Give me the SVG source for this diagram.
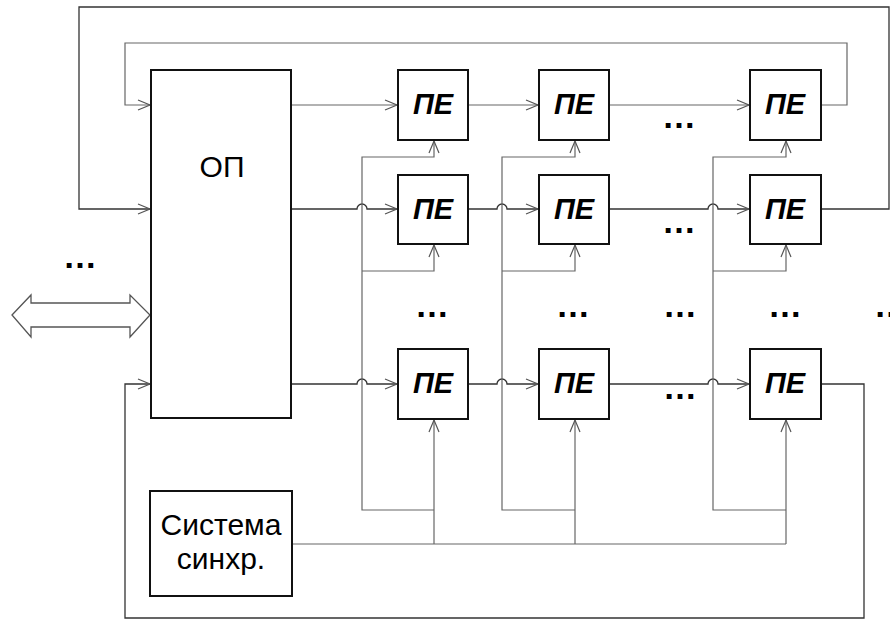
<svg xmlns="http://www.w3.org/2000/svg" width="890" height="619" viewBox="0 0 890 619">
<defs>
<marker id="arr" markerUnits="userSpaceOnUse" markerWidth="14" markerHeight="12" refX="12" refY="6" orient="auto" overflow="visible">
<path d="M0,1 L12,6 L0,11" fill="none" stroke="#555" stroke-width="1.2"/>
</marker>
</defs>
<style>
.box{fill:#fff;stroke:#111;stroke-width:2}
.ln{fill:none;stroke:#666;stroke-width:1.2}
.dk{fill:none;stroke:#333;stroke-width:1.3}
.pe{font-family:"Liberation Sans",Arial,sans-serif;font-weight:bold;font-style:italic;font-size:29px;fill:#000;text-anchor:middle}
.lb{font-family:"Liberation Sans",Arial,sans-serif;font-size:30px;fill:#000;text-anchor:middle}
.dots{font-family:"Liberation Sans",Arial,sans-serif;font-weight:bold;font-size:34px;fill:#000;text-anchor:middle}
.bus{fill:#fff;stroke:#555;stroke-width:1.3}
</style>
<rect width="890" height="619" fill="#fff"/>
<g id="connectors">
<path class="dk" d="M821,209 H889 V7 H79 V209 H150" marker-end="url(#arr)"/>
<path class="ln" d="M821,105 H847 V43 H125 V105 H150" marker-end="url(#arr)"/>
<path class="dk" d="M821,384 H864 V618 H125 V384 H150" marker-end="url(#arr)"/>
<path class="ln" d="M291,105 H397" marker-end="url(#arr)"/>
<path class="ln" d="M468,105 H538" marker-end="url(#arr)"/>
<path class="ln" d="M609,105 H749" marker-end="url(#arr)"/>
<path class="dk" d="M291,209 H357 a5,5 0 0 1 10,0 H397" marker-end="url(#arr)"/>
<path class="dk" d="M468,209 H497 a5,5 0 0 1 10,0 H538" marker-end="url(#arr)"/>
<path class="dk" d="M609,209 H708 a5,5 0 0 1 10,0 H749" marker-end="url(#arr)"/>
<path class="dk" d="M291,384 H357 a5,5 0 0 1 10,0 H397" marker-end="url(#arr)"/>
<path class="dk" d="M468,384 H497 a5,5 0 0 1 10,0 H538" marker-end="url(#arr)"/>
<path class="dk" d="M609,384 H708 a5,5 0 0 1 10,0 H749" marker-end="url(#arr)"/>
<path class="ln" d="M434,510 H362 V157 H434 V141" marker-end="url(#arr)"/>
<path class="ln" d="M362,271 H434 V245" marker-end="url(#arr)"/>
<path class="ln" d="M575,510 H502 V157 H575 V141" marker-end="url(#arr)"/>
<path class="ln" d="M502,271 H575 V245" marker-end="url(#arr)"/>
<path class="ln" d="M786,510 H713 V157 H786 V141" marker-end="url(#arr)"/>
<path class="ln" d="M713,271 H786 V245" marker-end="url(#arr)"/>
<path class="ln" d="M292,544 H786"/>
<path class="ln" d="M434,544 V420" marker-end="url(#arr)"/>
<path class="ln" d="M575,544 V420" marker-end="url(#arr)"/>
<path class="ln" d="M786,544 V420" marker-end="url(#arr)"/>
<path class="bus" d="M12,315 L31,295 V303 H130 V295 L150,315 L130,337 V327 H31 V337 Z"/>
</g>
<g id="op">
<rect class="box" x="151" y="70" width="140" height="348"/>
<text class="lb" x="222" y="177">ОП</text>
</g>
<g id="sync">
<rect class="box" x="150" y="491" width="142" height="105"/>
<text class="lb" x="221" y="535">Система</text>
<text class="lb" x="221" y="569">синхр.</text>
</g>
<g id="pe11"><rect class="box" x="398" y="70" width="70" height="70"/><text class="pe" x="433" y="114">ПЕ</text></g>
<g id="pe12"><rect class="box" x="539" y="70" width="70" height="70"/><text class="pe" x="574" y="114">ПЕ</text></g>
<g id="pe13"><rect class="box" x="750" y="70" width="71" height="70"/><text class="pe" x="785" y="114">ПЕ</text></g>
<g id="pe21"><rect class="box" x="398" y="175" width="70" height="69"/><text class="pe" x="433" y="219">ПЕ</text></g>
<g id="pe22"><rect class="box" x="539" y="175" width="70" height="69"/><text class="pe" x="574" y="219">ПЕ</text></g>
<g id="pe23"><rect class="box" x="750" y="175" width="71" height="69"/><text class="pe" x="785" y="219">ПЕ</text></g>
<g id="pe31"><rect class="box" x="398" y="349" width="70" height="70"/><text class="pe" x="433" y="393">ПЕ</text></g>
<g id="pe32"><rect class="box" x="539" y="349" width="70" height="70"/><text class="pe" x="574" y="393">ПЕ</text></g>
<g id="pe33"><rect class="box" x="750" y="349" width="71" height="70"/><text class="pe" x="785" y="393">ПЕ</text></g>
<g id="dots">
<text class="dots" x="80" y="268">…</text>
<text class="dots" x="679" y="128">…</text>
<text class="dots" x="679" y="233">…</text>
<text class="dots" x="432" y="317">…</text>
<text class="dots" x="573" y="317">…</text>
<text class="dots" x="680" y="317">…</text>
<text class="dots" x="785" y="317">…</text>
<text class="dots" x="891" y="317">…</text>
<text class="dots" x="680" y="399">…</text>
</g>
</svg>
